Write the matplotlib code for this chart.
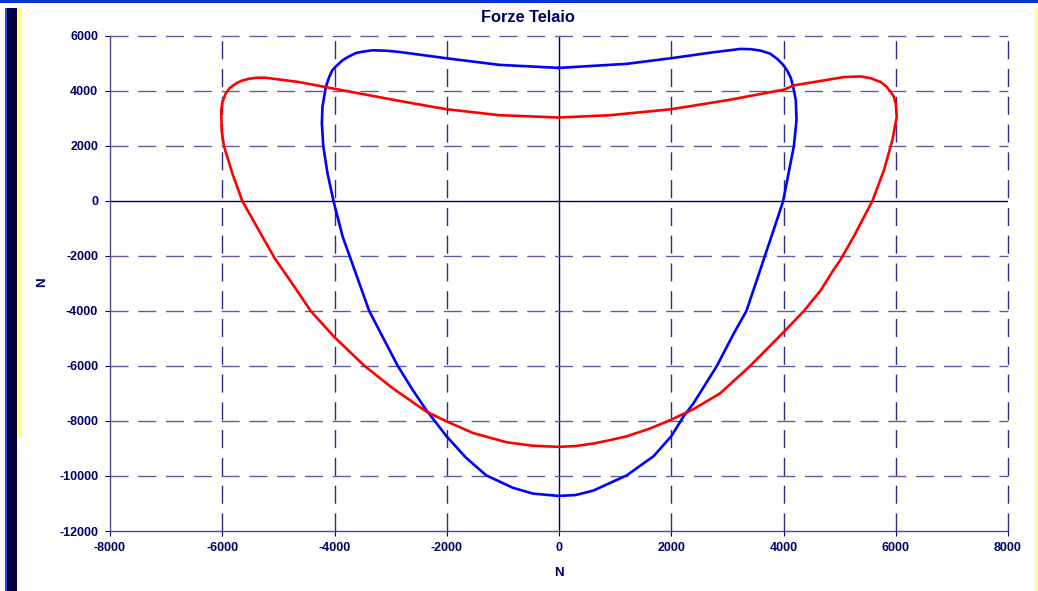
import matplotlib.pyplot as plt
from matplotlib.patches import Rectangle

# Values (closed loops, clockwise from top centre)
blue_x = [0, -1060, -2006, -2845, -3083, -3320, -3500, -3620, -3768, -3860,
          -3976, -4040, -4095, -4155, -4215, -4225, -4200, -4125, -4018, -3857,
          -3701, -3658, -3381, -3173, -2875, -2607, -2369, -2006, -1655, -1298,
          -821, -464, 0, 300, 613, 1208, 1685, 2000, 2220, 2399, 2815,
          3113, 3339, 3590, 3640, 3827, 3994, 4125, 4185, 4232, 4220,
          4173, 4130, 4065, 3990, 3887, 3760, 3589, 3420, 3232, 2756,
          2000, 1208, 0]
blue_y = [4840, 4950, 5190, 5420, 5465, 5480, 5430, 5380, 5229, 5110,
          4892, 4750, 4506, 4145, 3420, 2820, 2000, 1010, 0, -1280,
          -2170, -2420, -4000, -4820, -5990, -6870, -7590, -8550, -9340, -9975,
          -10430, -10640, -10725, -10690, -10530, -9975, -9280, -8555, -7830, -7350, -5990,
          -4820, -4000, -2480, -2170, -1036, 0, 1373, 2000, 2940, 3663,
          4145, 4480, 4747, 4960, 5169, 5360, 5470, 5520, 5530, 5410,
          5193, 4988, 4840]

red_x = [0, -1060, -2006, -2845, -4006, -4631, -5226, -5400, -5524, -5660,
         -5762, -5870, -5940, -5995, -6018, -6012, -5970, -5821, -5643, -5290,
         -5060, -4750, -4423, -4006, -3470, -2964, -2369, -2006, -1536, -940,
         -470, 0, 300, 613, 900, 1208, 1600, 2000, 2399, 2875,
         3411, 4006, 4363, 4661, 4899, 5006, 5256, 5583, 5792, 5940,
         6018, 6000, 5970, 5911, 5830, 5732, 5560, 5375, 5077, 4185,
         4006, 2994, 2000, 911, 0]
red_y = [3036, 3120, 3337, 3639, 4084, 4325, 4482, 4480, 4446, 4370,
         4265, 4100, 3904, 3600, 3301, 2578, 2000, 1012, 0, -1277,
         -2100, -3012, -4000, -4940, -5988, -6807, -7651, -8012, -8434, -8771,
         -8900, -8940, -8910, -8819, -8700, -8554, -8290, -7952, -7566, -6988,
         -5988, -4759, -4000, -3253, -2482, -2169, -1277, 0, 1133, 2217,
         3060, 3542, 3780, 3964, 4170, 4325, 4460, 4530, 4506, 4205,
         4048, 3663, 3337, 3120, 3036]

x_ticks = [-8000, -6000, -4000, -2000, 0, 2000, 4000, 6000, 8000]
y_ticks = [-12000, -10000, -8000, -6000, -4000, -2000, 0, 2000, 4000, 6000]

navy = '#000066'
W, H = 1038, 591

plt.rcParams['font.family'] = ['Liberation Sans', 'DejaVu Sans']
plt.rcParams['axes.unicode_minus'] = False

fig = plt.figure(figsize=(W / 100, H / 100), dpi=100)
fig.patch.set_facecolor('white')
ax = fig.add_axes([110 / W, 1 - 531 / H, (1008 - 110) / W, (531 - 36) / H])

ax.set_xlim(x_ticks[0], x_ticks[-1])
ax.set_ylim(y_ticks[0], y_ticks[-1])

# dashed grid, solid zero lines
for v in x_ticks[1:]:
    if v == 0:
        ax.axvline(v, color=navy, lw=1.0, zorder=1)
    else:
        ax.axvline(v, color='#2a2a88', lw=1.0, ls=(0, (13, 7)), zorder=1, clip_on=False)
for v in y_ticks[1:]:
    if v == 0:
        ax.axhline(v, color=navy, lw=1.0, zorder=1)
    else:
        ax.axhline(v, color='#5c5ca4', lw=1.0, ls=(0, (13, 7)), zorder=1, clip_on=False)

ax.plot(blue_x, blue_y, color='#0000ff', lw=1.9, zorder=3)
ax.plot(red_x, red_y, color='#ff0000', lw=1.9, zorder=3)

ax.set_xticks(x_ticks)
ax.set_yticks(y_ticks)
ax.tick_params(direction='out', length=3.5, width=0.8, color=navy,
               labelcolor=navy, labelsize=9)
ax.tick_params(axis='x', pad=4.5)
ax.tick_params(axis='y', pad=5)
for lab in ax.get_xticklabels() + ax.get_yticklabels():
    lab.set_fontweight('bold')

for s in ['top', 'right']:
    ax.spines[s].set_visible(False)
for s in ['left', 'bottom']:
    ax.spines[s].set_color('#4a4a90')
    ax.spines[s].set_linewidth(1.0)

fig.text(528 / W, 1 - 18 / H, 'Forze Telaio', ha='center', va='center',
         fontsize=11.8, fontweight='bold', color=navy)
fig.text(559 / W, 1 - 573 / H, 'N', ha='center', va='center',
         fontsize=9.5, fontweight='bold', color=navy)
fig.text(42 / W, 1 - 282 / H, 'N', ha='center', va='center', rotation=90,
         fontsize=9.5, fontweight='bold', color=navy)

# window frame decorations
def px_rect(x0, y0, x1, y1, color):
    fig.add_artist(Rectangle((x0 / W, 1 - y1 / H), (x1 - x0) / W, (y1 - y0) / H,
                             transform=fig.transFigure, facecolor=color,
                             edgecolor='none', zorder=10))

px_rect(0, 0, W, 3, '#0033cc')
px_rect(5, 8, 7, H, '#1a4fe0')
px_rect(7, 8, 17, H, '#000040')
px_rect(17, 8, 21, 437, '#ffff80')
px_rect(1035, 8, W, H, '#ffff80')

fig.savefig('out.png', dpi=100, facecolor='white')
